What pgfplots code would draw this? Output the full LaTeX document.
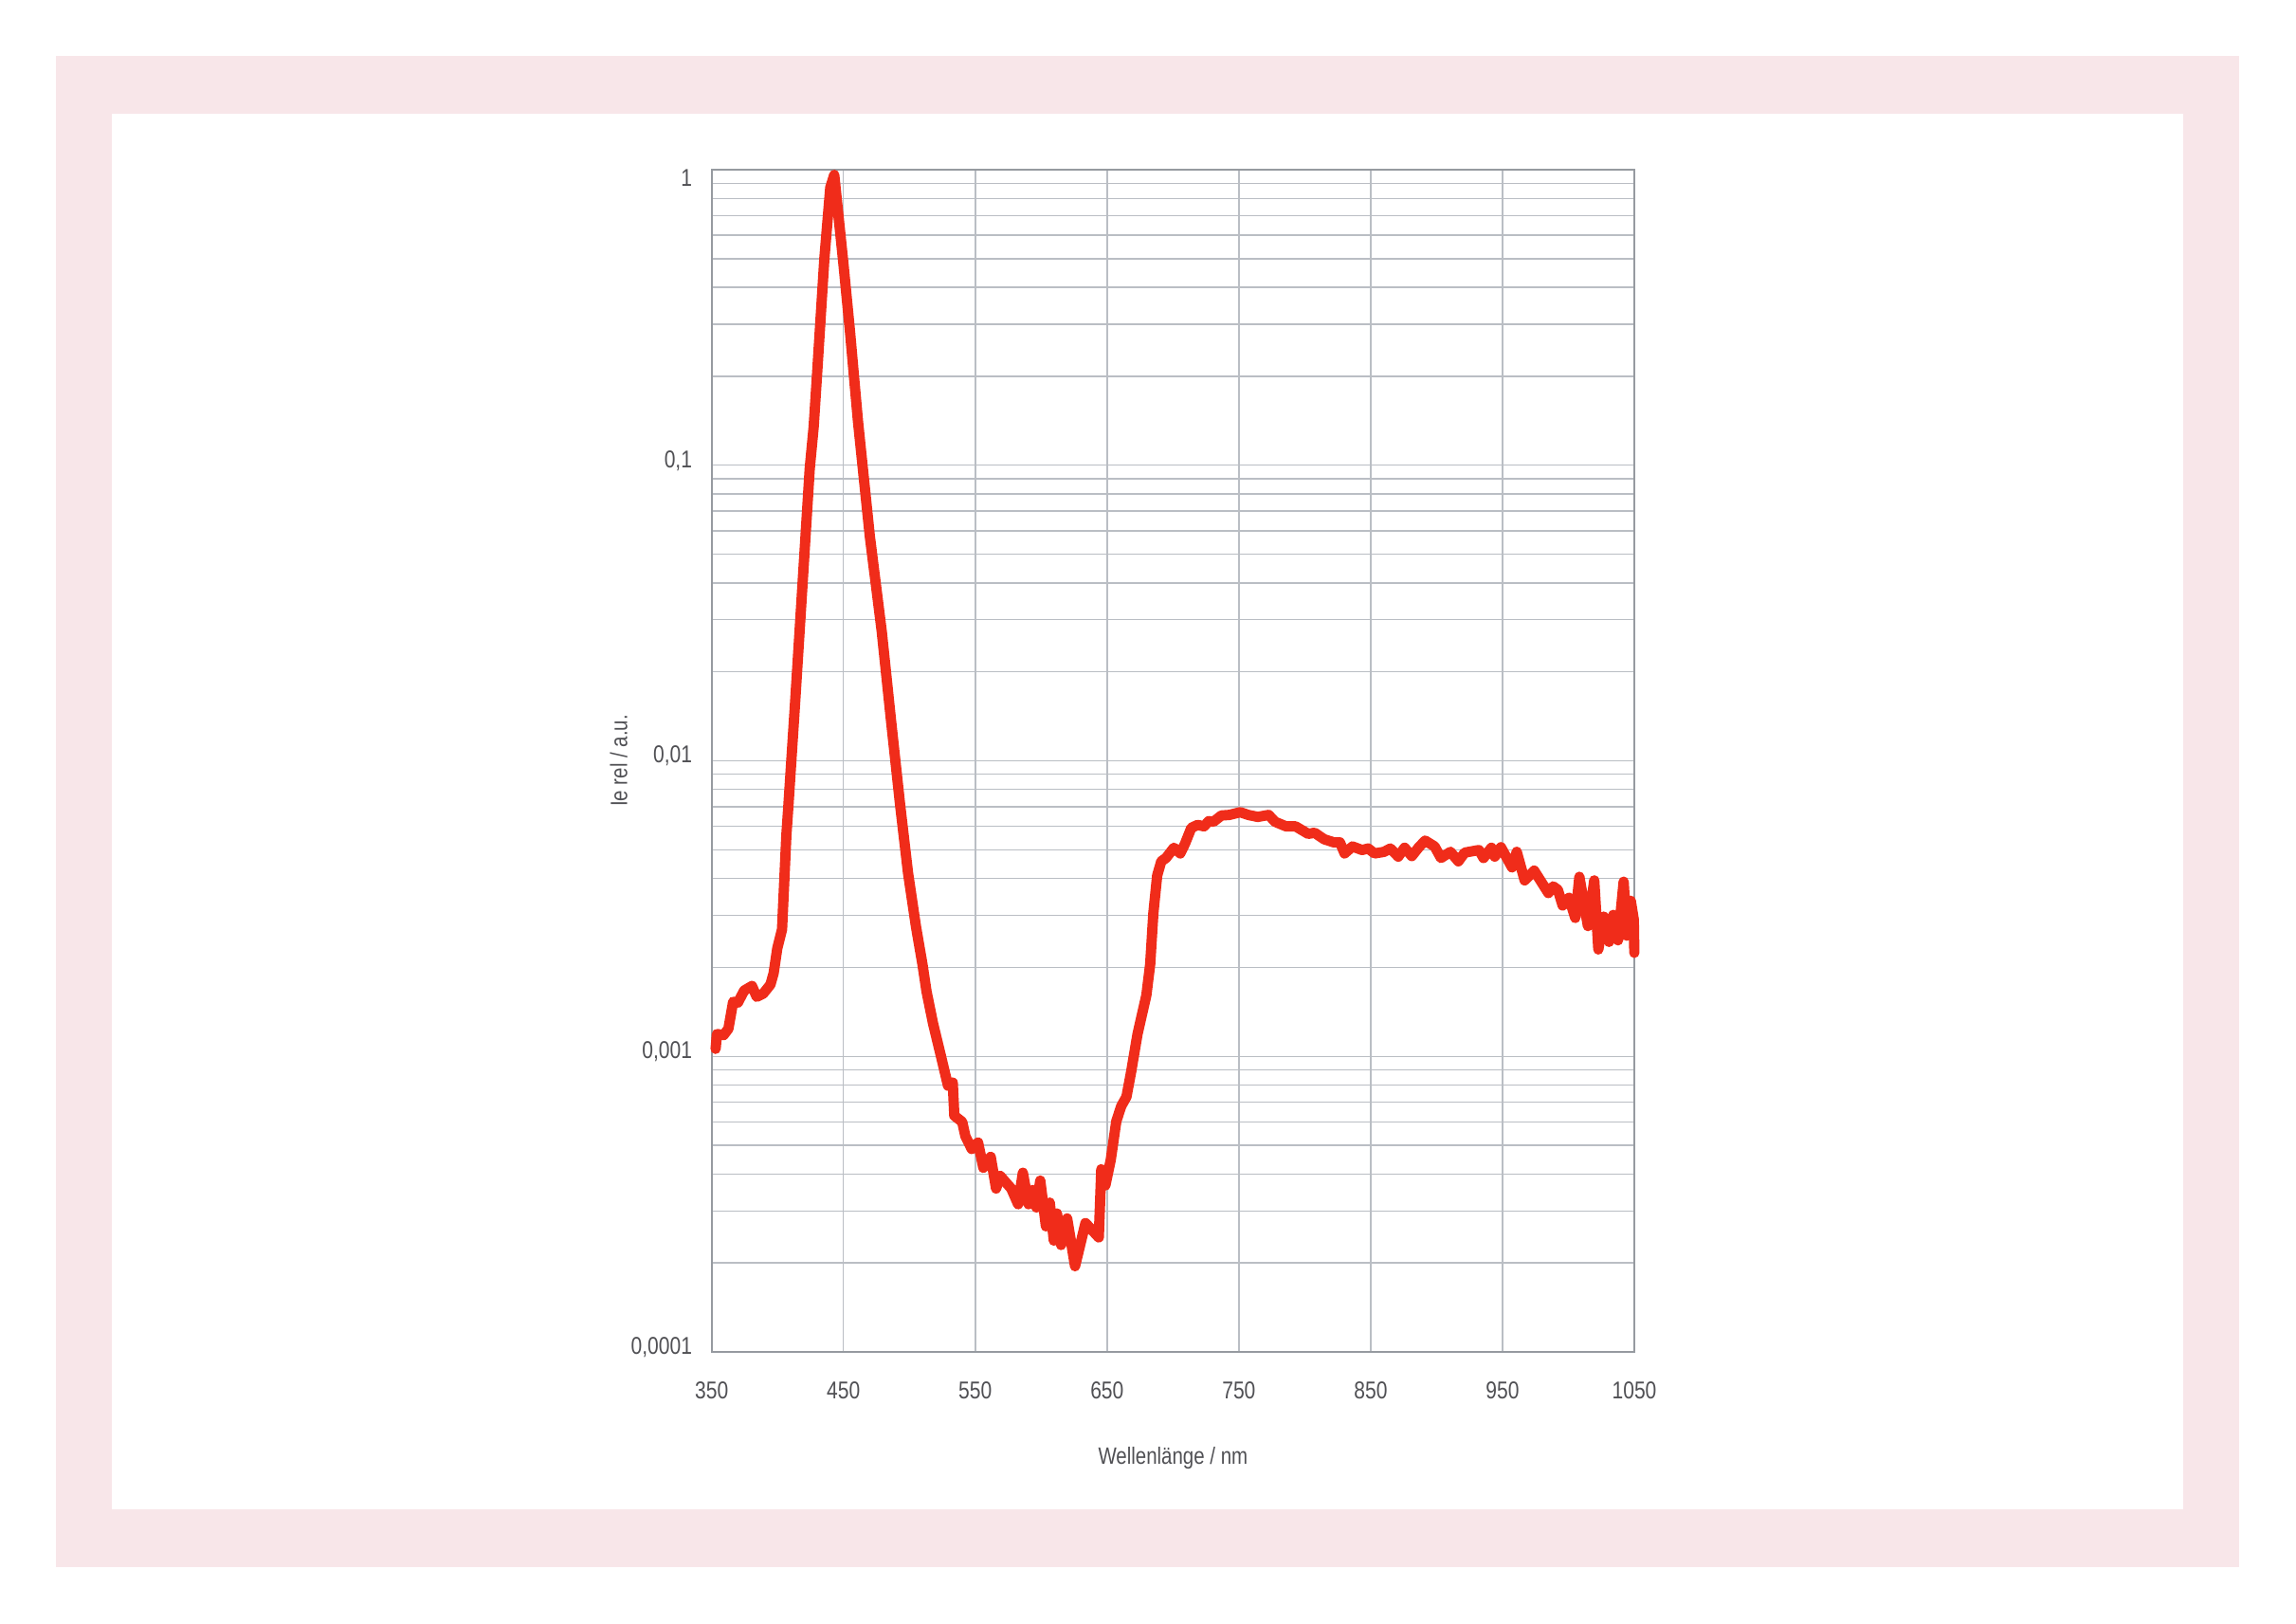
\documentclass[border=0pt]{standalone}
\usepackage{fontspec}
\setmainfont{Liberation Sans}[FakeStretch=0.82]
\usepackage{pgfplots}
\pgfplotsset{compat=1.18}
\definecolor{framepink}{RGB}{248,230,233}
\definecolor{gridgray}{RGB}{186,190,196}
\definecolor{axisgray}{RGB}{150,154,160}
\definecolor{txtgray}{RGB}{80,80,84}
\definecolor{specred}{RGB}{240,44,26}
\newcommand{\ticksize}{\fontsize{7.3}{8}\selectfont}
\newcommand{\labsize}{\fontsize{7.1}{8}\selectfont}
\begin{document}
\begin{tikzpicture}
\fill[white] (0,0) rectangle (242.2mm,171.3mm);
\fill[framepink] (5.9mm,6.0mm) rectangle (236.2mm,165.4mm);
\fill[white] (11.8mm,12.1mm) rectangle (230.3mm,159.3mm);
\begin{axis}[
  at={(75.07mm,28.7mm)}, anchor=south west,
  scale only axis, width=97.33mm, height=124.7mm,
  xmin=350, xmax=1050, ymode=log, ymin=1e-4, ymax=1,
  xtick={350,450,550,650,750,850,950,1050},
  xticklabels={350,450,550,650,750,850,950,1050},
  ytick={1e-4,1e-3,1e-2,1e-1,1},
  yticklabels={{0,0001},{0,001},{0,01},{0,1},{\raisebox{-2.2mm}[0pt][0pt]{1}}},
  minor ytick={2e-4,3e-4,4e-4,5e-4,6e-4,7e-4,8e-4,9e-4,
               2e-3,3e-3,4e-3,5e-3,6e-3,7e-3,8e-3,9e-3,
               2e-2,3e-2,4e-2,5e-2,6e-2,7e-2,8e-2,9e-2,
               0.2,0.3,0.4,0.5,0.6,0.7,0.8,0.9},
  xmajorgrids=true, ymajorgrids=true, yminorgrids=true,
  major grid style={gridgray, line width=0.4pt},
  minor grid style={gridgray, line width=0.4pt},
  axis line style={axisgray, line width=0.55pt},
  major tick length=0pt, minor tick length=0pt,
  tick style={draw=none},
  xticklabel style={font=\ticksize, text=txtgray, inner sep=0pt, anchor=center, yshift=-4.1mm},
  yticklabel style={font=\ticksize, text=txtgray, inner sep=0pt, anchor=east, xshift=-2.0mm, yshift=0.5mm},
  xlabel={Wellenlänge / nm},
  ylabel={Ie rel / a.u.},
  every axis x label/.style={at={(axis description cs:0.5,0)}, yshift=-11.2mm, anchor=center, font=\labsize, text=txtgray, inner sep=0pt},
  every axis y label/.style={at={(axis description cs:0,0.5)}, xshift=-9.8mm, rotate=90, anchor=center, font=\labsize, text=txtgray, inner sep=0pt},
  clip=false,
  axis on top=false,
]
\addplot[specred, line width=3.1pt, line join=round, line cap=round] coordinates {
(353,0.00106) (354,0.00119) (359.1,0.00118) (362.7,0.00124) (366.3,0.00153) (369.9,0.00152)
(374.7,0.00167) (380.6,0.00173) (384.2,0.00159) (389.1,0.00163) (394.6,0.00175) (397.0,0.00191)
(399.8,0.00232) (403.4,0.00269) (406.7,0.00562) (408.2,0.00703) (413.3,0.0157) (418,0.0339)
(424.4,0.0974) (427.4,0.135) (430,0.204) (435.5,0.50) (440,0.87) (443,0.96)
(450,0.479) (455,0.282) (461,0.141) (470,0.0575) (479,0.0275) (486,0.0138) (493,0.00708)
(499,0.00417) (505,0.00275) (510,0.00204) (513,0.00166) (518,0.00129) (524,0.00100)
(529.3,0.000796) (532.9,0.000815) (534.1,0.000630) (540.1,0.000600) (542.5,0.000537)
(547.3,0.000486) (552.1,0.000511) (556.1,0.000420) (561.7,0.000457) (565.8,0.000357)
(568.9,0.000394) (577.3,0.000357) (582.5,0.000316) (586.1,0.000404) (590.4,0.000316)
(593.5,0.000353) (596.4,0.000308) (599.3,0.000380) (603.6,0.000266) (606.5,0.000320)
(609.6,0.000238) (612.0,0.000294) (615.1,0.000230) (619.7,0.000283) (625.7,0.000195)
(633.6,0.000273) (643.7,0.000244) (645.6,0.000415) (648.7,0.000366) (652.8,0.000447)
(657,0.000603) (660.7,0.000678) (664.7,0.000730) (668.3,0.000889) (673.1,0.00119)
(679.8,0.00161) (682.7,0.00205) (685.1,0.00305) (688.0,0.00409) (691.1,0.00457)
(694.7,0.00469) (700.7,0.00508) (705.5,0.00486) (709.1,0.00524) (713.9,0.00593)
(718.7,0.00607) (723.5,0.00600) (727.1,0.00625) (730.7,0.00622) (736.7,0.00653)
(742.7,0.00656) (751.0,0.00670) (757.1,0.00656) (764.3,0.00646) (772.6,0.00656)
(777.4,0.00622) (785.8,0.00600) (793.0,0.00600) (802.6,0.00566) (807.4,0.00571)
(814.6,0.00543) (821.8,0.00530) (826.6,0.00530) (830.2,0.00486) (836.2,0.00513)
(843.4,0.00499) (848.1,0.00505) (852.9,0.00486) (860.1,0.00492) (864.9,0.00505)
(870.9,0.00474) (875.7,0.00508) (881.2,0.00476) (886.5,0.00510) (891.3,0.00537)
(898.5,0.00513) (903.3,0.00469) (910.5,0.00492) (916.5,0.00457) (921.3,0.00489)
(932.1,0.00499) (935.6,0.00469) (941.6,0.00508) (944.1,0.00474) (948.8,0.00510)
(957.2,0.00436) (960.8,0.00492) (966.8,0.00394) (974.0,0.00425) (984.8,0.00357)
(988.4,0.00376) (992.0,0.00366) (995.6,0.00324) (1000.4,0.00344) (1005.2,0.00294)
(1008.3,0.00405) (1014.8,0.00276) (1019.6,0.00394) (1022.7,0.00230) (1026.8,0.00297)
(1030.8,0.00244) (1034.0,0.00301) (1037.6,0.00247) (1041.9,0.00390) (1044.3,0.00256)
(1047.3,0.00336) (1049.6,0.00290) (1050,0.00224)
};
\end{axis}
\end{tikzpicture}
\end{document}
